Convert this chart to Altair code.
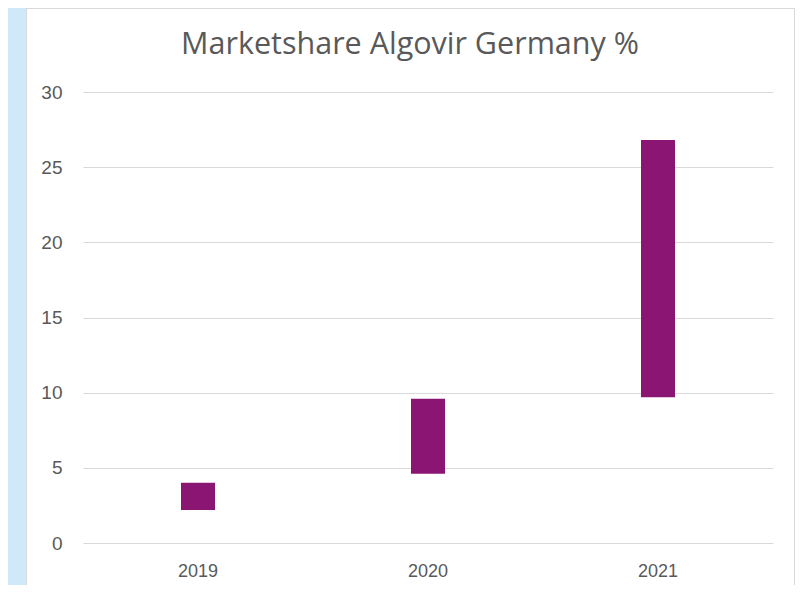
import altair as alt
import pandas as pd

title_text = "Marketshare Algovir Germany %"
years = ["2019", "2020", "2021"]
low_values = [2.2, 4.6, 9.7]
high_values = [4.0, 9.6, 26.8]
y_ticks = [0, 5, 10, 15, 20, 25, 30]

df = pd.DataFrame({"year": years, "low": low_values, "high": high_values})

BAR = "#8b1573"
TXT = "#595959"
BLUE = "#cfe8fa"
BORDER = "#d9d9d9"

bars = alt.Chart(df).mark_bar(width=34, color=BAR).encode(
    x=alt.X("year:N", sort=years,
            scale=alt.Scale(paddingInner=0, paddingOuter=0),
            axis=alt.Axis(title=None, labelAngle=0, domain=False, ticks=False,
                          labelFont="Liberation Sans", labelFontSize=18,
                          labelColor=TXT, labelPadding=19, grid=False)),
    y=alt.Y("low:Q",
            scale=alt.Scale(domain=[0, 30], nice=False),
            axis=alt.Axis(title=None, values=y_ticks, domain=False, ticks=False,
                          labelFont="Liberation Sans", labelFontSize=19,
                          labelColor=TXT, labelPadding=21,
                          gridColor=BORDER, gridWidth=1)),
    y2="high:Q",
)

one = alt.Data(values=[{"t": title_text}])
left_strip = alt.Chart(one).mark_rect(color=BLUE).encode(
    x=alt.value(-75), x2=alt.value(-57), y=alt.value(-84), y2=alt.value(510))
left_border = alt.Chart(one).mark_rule(color=BORDER, strokeWidth=1).encode(
    x=alt.value(-56.5), y=alt.value(-84), y2=alt.value(510))
right_border = alt.Chart(one).mark_rule(color=BORDER, strokeWidth=1).encode(
    x=alt.value(711.5), y=alt.value(-84), y2=alt.value(510))
top_border = alt.Chart(one).mark_rule(color=BORDER, strokeWidth=1).encode(
    x=alt.value(-57), x2=alt.value(712), y=alt.value(-83.5))
title = alt.Chart(one).mark_text(
    font="Open Sans", fontSize=30.5, color=TXT, align="center",
    baseline="alphabetic",
).encode(x=alt.value(327), y=alt.value(-38), text="t:N")

chart = alt.layer(
    left_strip, left_border, right_border, top_border, title, bars
).properties(
    width=690,
    height=451,
    autosize=alt.AutoSizeParams(type="none"),
    padding={"left": 75, "top": 84, "right": 22, "bottom": 42},
    background="white",
).configure_view(stroke=None)

chart.save("out.html", embed_options={"renderer": "svg", "actions": False})
